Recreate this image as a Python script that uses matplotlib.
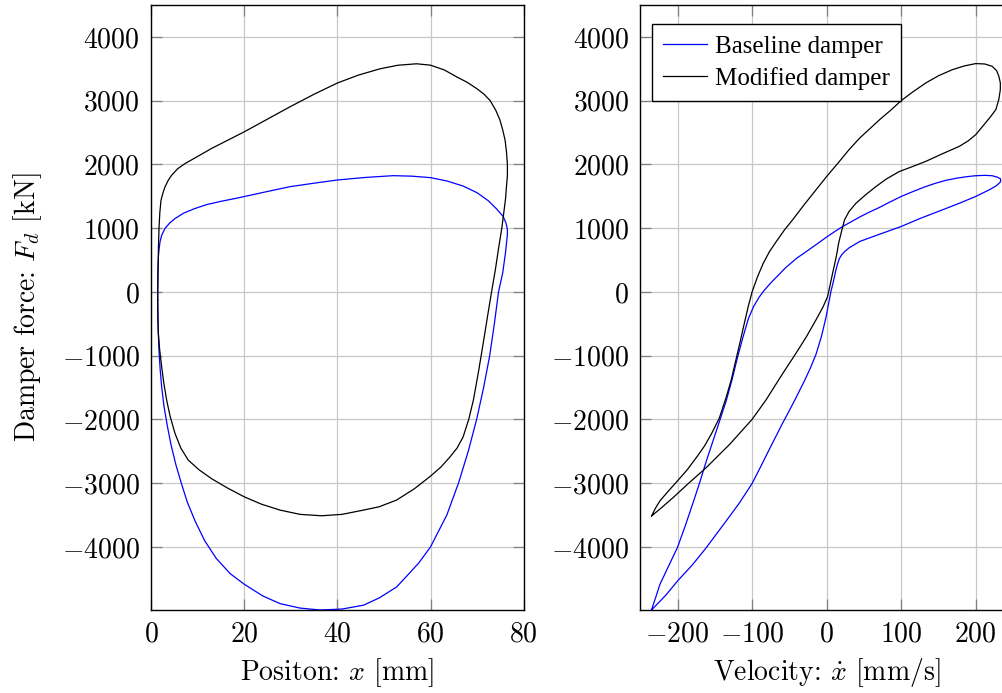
import numpy as np
import matplotlib
matplotlib.use("Agg")
import matplotlib.pyplot as plt

# Position [mm] vs force [kN] (left panel)
base_pos = [1.43, 1.45, 1.5, 1.6, 1.75, 1.95, 2.3, 3.0, 4.0, 5.15, 7.0, 9.4, 12.0, 15.0,
            18.0, 20.0, 25.0, 29.9, 35.0, 40.0, 46.0, 52.0, 56.0, 60.0, 63.5, 67.0, 70.0,
            72.4, 74.2, 75.6, 76.2, 76.5, 76.5, 76.1, 75.5, 74.6, 73.7, 72.7, 71.4, 69.9,
            68.1, 66.0, 63.5, 60.0, 57.5, 55.0, 52.7, 49.0,
            45.6, 41.0, 36.3, 32.0, 27.7, 24.0, 20.0, 17.0, 14.0, 11.5, 9.5, 7.8, 6.5,
            5.3, 4.3, 3.5, 2.8, 2.3, 1.95, 1.7, 1.55, 1.47, 1.43]
base_force = [0, 200, 400, 560, 680, 790, 890, 994, 1080, 1150, 1235, 1307, 1370, 1420,
              1464, 1495, 1575, 1651, 1705, 1755, 1795, 1823, 1815, 1792, 1740, 1660, 1555,
              1430, 1300, 1182, 1080, 980, 900, 620, 300, 0, -500, -1000,
              -1500, -2000, -2500, -3000, -3500, -4000, -4250, -4450,
              -4630, -4800, -4915, -4975, -4990, -4960, -4890, -4770, -4585, -4420, -4180,
              -3900, -3600, -3300, -3000, -2700, -2400, -2100, -1800, -1500, -1200, -900,
              -600, -300, 0]

mod_pos = [1.43, 1.47, 1.53, 1.6, 1.72, 1.9, 2.15, 2.6, 3.0, 3.7, 4.43, 5.7, 7.3, 9.9,
           13.0, 16.5, 20.0, 25.0, 29.9, 35.0, 40.0, 44.5, 49.2, 53.0, 57.0, 60.0, 63.0,
           65.6, 67.8, 69.9, 71.5, 72.8, 74.0, 74.9, 75.5, 76.0, 76.3, 76.5, 76.5, 76.3,
           76.1, 75.8, 75.3, 74.6, 73.9, 73.1, 72.2, 71.3, 70.3, 69.2, 68.2, 67.0, 65.7,
           64.2, 62.2, 60.0, 56.5, 52.7, 49.0, 45.6, 41.0, 36.6, 32.0, 27.7, 23.7, 20.0,
           16.5, 13.0, 10.3, 8.0, 6.4, 5.15, 4.1, 3.36, 2.75, 2.29, 1.85, 1.58, 1.47,
           1.43]
mod_force = [-130, 100, 392, 700, 1004, 1250, 1438, 1560, 1646, 1750, 1830, 1930, 2013,
             2120, 2250, 2380, 2510, 2710, 2906, 3100, 3276, 3400, 3500, 3555, 3578, 3556,
             3480, 3373, 3290, 3190, 3100, 3000, 2850, 2695, 2540, 2381, 2200, 2000, 1820,
             1650, 1460, 1285, 1000, 680, 340, 0, -400, -810, -1250, -1698, -2000, -2274,
             -2450, -2587, -2750, -2890, -3090, -3266, -3370, -3423, -3490, -3512, -3490,
             -3423, -3330, -3214, -3080, -2930, -2790, -2639, -2450, -2220, -1950, -1698,
             -1430, -1176, -900, -652, -400, -130]

# Velocity [mm/s] vs force [kN] (right panel)
base_vel = [-235, -229, -223.6, -212, -200, -190, -179, -170, -161.3, -148, -134.7, -127,
            -119, -112, -105, -98, -91, -84, -75, -65, -55, -40, -30, -14.3, 0, 10, 21.4,
            33, 44.4, 57.1, 70, 85, 100, 115, 130, 145, 160, 175, 190, 200, 212, 222,
            229, 233, 233.5, 232.5, 227, 218, 200, 178, 155.6, 125, 100, 70, 44.4, 30,
            24, 20, 17, 14.7, 12, 9, 6, 3, -0.9, -7, -14.3, -22, -30, -41.1, -50, -60,
            -76.9, -88, -100, -117, -134.7, -148, -161.3, -180, -200, -214.7, -225, -235]
base_vforce = [-4990, -4780, -4586, -4300, -4005, -3680, -3300, -2980, -2649, -2180, -1707,
               -1380, -1000, -700, -420, -230, -90, 20, 140, 260, 380, 530, 610, 740, 860,
               940, 1025, 1100, 1175, 1250, 1320, 1410, 1497, 1570, 1640, 1700, 1750, 1785,
               1810, 1822, 1828, 1822, 1800, 1775, 1745, 1715, 1660, 1600, 1497, 1390, 1288,
               1150, 1026, 900, 791, 690, 630, 580, 520, 440, 320, 160, 20, -160, -400, -700,
               -980, -1200, -1400, -1660, -1860, -2080, -2470, -2730, -3005, -3310, -3592,
               -3800, -4010, -4280, -4534, -4743, -4870, -4990]

mod_vel = [-234.7, -230, -223.6, -212, -200, -187, -174.7, -164, -154.7, -144, -134.7,
           -128, -122, -116, -110, -105, -100, -93, -85, -76.8, -67, -56.7, -45, -30, -15,
           0, 15.2, 30, 44.4, 58, 71.1, 86, 100, 116, 133, 150, 169, 185, 200, 212, 222,
           228, 231, 233, 233, 231, 227, 220, 213, 200, 190, 178, 155, 133, 115, 97.3, 80,
           66.1, 52, 39.3, 30, 24, 21.4, 18.5, 16, 14, 11, 8, 4.5, 1.3, -5, -14.3, -27,
           -41.1, -60, -81.3, -100, -130, -161.3, -185, -205.8, -222, -234.7]
mod_vforce = [-3513, -3400, -3277, -3120, -2963, -2790, -2597, -2420, -2230, -1980, -1650,
              -1380, -1080, -780, -470, -220, 0, 230, 450, 630, 800, 970, 1140, 1370, 1590,
              1810, 2020, 2230, 2414, 2560, 2702, 2850, 3000, 3140, 3277, 3390, 3487, 3545,
              3581, 3575, 3539, 3470, 3382, 3280, 3173, 3020, 2859, 2750, 2649, 2466, 2370,
              2283, 2165, 2047, 1965, 1887, 1770, 1652, 1520, 1390, 1260, 1130, 1014, 880,
              760, 620, 450, 293, 100, -73, -240, -439, -700, -962, -1300, -1694, -2000,
              -2390, -2754, -3000, -3225, -3390, -3513]

labels = ["Baseline damper", "Modified damper"]
force_ticks = [-4000, -3000, -2000, -1000, 0, 1000, 2000, 3000, 4000]

plt.rcParams["font.family"] = "serif"
plt.rcParams["font.serif"] = ["cmr10"]
plt.rcParams["mathtext.fontset"] = "cm"
plt.rcParams["axes.formatter.use_mathtext"] = True
plt.rcParams["axes.unicode_minus"] = True

fig = plt.figure(figsize=(10.03, 6.93), dpi=100)
ax1 = fig.add_axes([151 / 1003, 1 - 610 / 693, 372.7 / 1003, 605 / 693])
ax2 = fig.add_axes([640.3 / 1003, 1 - 610 / 693, 372.7 / 1003, 605 / 693])

ax1.plot(base_pos, base_force, color="blue", lw=0.9, label=labels[0])
ax1.plot(mod_pos, mod_force, color="black", lw=0.9, label=labels[1])
ax2.plot(base_vel, base_vforce, color="blue", lw=0.9, label=labels[0])
ax2.plot(mod_vel, mod_vforce, color="black", lw=0.9, label=labels[1])

ax1.set_xlim(0, 80)
ax1.set_xticks([0, 20, 40, 60, 80])
ax2.set_xlim(-250, 250)
ax2.set_xticks([-200, -100, 0, 100, 200])

for ax in (ax1, ax2):
    ax.set_ylim(-4990, 4500)
    ax.set_yticks(force_ticks)
    ax.grid(True, color="#c8c8c8", lw=0.9)
    ax.set_axisbelow(True)
    ax.tick_params(direction="in", length=8, width=0.9, color="#808080",
                   top=True, right=True, labelsize=20, pad=8)
    for sp in ax.spines.values():
        sp.set_linewidth(1.0)

ax1.set_xlabel("Positon: $x$ [mm]", fontsize=20, labelpad=6)
ax1.set_ylabel("Damper force: $F_d$ [kN]", fontsize=20, labelpad=13)
ax2.set_xlabel(r"Velocity: $\dot{x}$ [mm/s]", fontsize=20, labelpad=6)

leg = ax2.legend(loc="upper left", bbox_to_anchor=(0.032, 0.969), borderaxespad=0,
                 fancybox=False, framealpha=1, edgecolor="black",
                 prop={"family": "Liberation Serif", "size": 18},
                 handlelength=1.76, borderpad=0.45, labelspacing=0.37, handletextpad=0.3)
leg.get_frame().set_linewidth(1.0)

fig.savefig("out.png", dpi=100)
